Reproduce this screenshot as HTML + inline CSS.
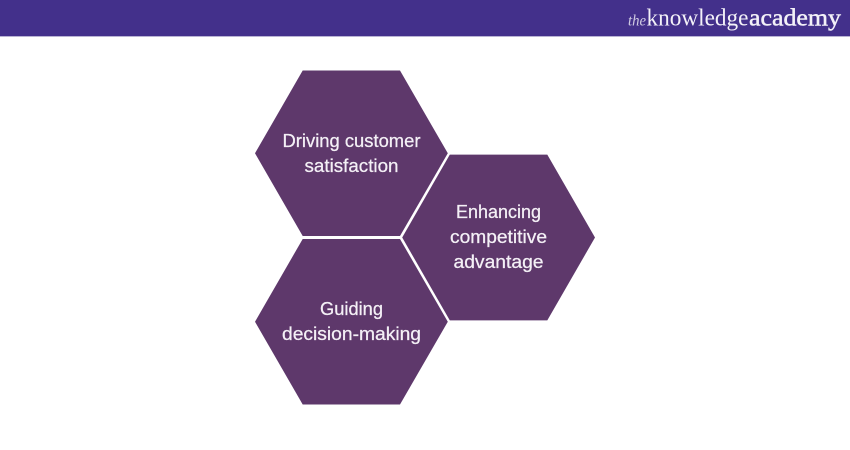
<!DOCTYPE html>
<html>
<head>
<meta charset="utf-8">
<style>
html,body{margin:0;padding:0;background:#fff;width:850px;height:450px;overflow:hidden}
svg{display:block}
.l{font-family:"Liberation Sans",sans-serif;font-size:18px;fill:#f4f0f6;stroke:#f4f0f6;stroke-width:.25;text-anchor:middle}
.s{font-family:"Liberation Serif",serif;fill:#f3f1f8}
</style>
</head>
<body>
<svg width="850" height="450" viewBox="0 0 850 450" xmlns="http://www.w3.org/2000/svg">
<rect width="850" height="450" fill="#fff"/>
<rect width="850" height="36" fill="#43308b"/>
<rect y="36" width="850" height="1" fill="#b9b3d4"/>
<text class="s" x="628" y="25.5" font-size="16" font-style="italic" textLength="18" lengthAdjust="spacingAndGlyphs" fill-opacity=".8">the</text>
<text class="s" x="646.5" y="25.5" font-size="24" textLength="102" lengthAdjust="spacingAndGlyphs">knowledge</text>
<text class="s" x="749" y="25.5" font-size="24" stroke="#f3f1f8" stroke-width=".45" textLength="92" lengthAdjust="spacingAndGlyphs">academy</text>

<polygon points="302.7,70.5 400,70.5 447.8,153.3 400,236 302.7,236 255,153.3" fill="#5e386b"/>
<polygon points="449.8,154.6 547.3,154.6 595,237.5 547.3,320.4 449.8,320.4 402.2,237.5" fill="#5e386b"/>
<polygon points="302.7,239 400,239 447.8,321.7 400,404.5 302.7,404.5 255,321.7" fill="#5e386b"/>

<text class="l" x="351.5" y="147" textLength="138" lengthAdjust="spacingAndGlyphs">Driving customer</text>
<text class="l" x="351.5" y="172" textLength="94" lengthAdjust="spacingAndGlyphs">satisfaction</text>
<text class="l" x="498.5" y="218" textLength="85" lengthAdjust="spacingAndGlyphs">Enhancing</text>
<text class="l" x="498.5" y="243" textLength="97" lengthAdjust="spacingAndGlyphs">competitive</text>
<text class="l" x="498.5" y="268" textLength="90" lengthAdjust="spacingAndGlyphs">advantage</text>
<text class="l" x="351.5" y="315" textLength="63" lengthAdjust="spacingAndGlyphs">Guiding</text>
<text class="l" x="351.5" y="340" textLength="139" lengthAdjust="spacingAndGlyphs">decision-making</text>
</svg>
</body>
</html>
